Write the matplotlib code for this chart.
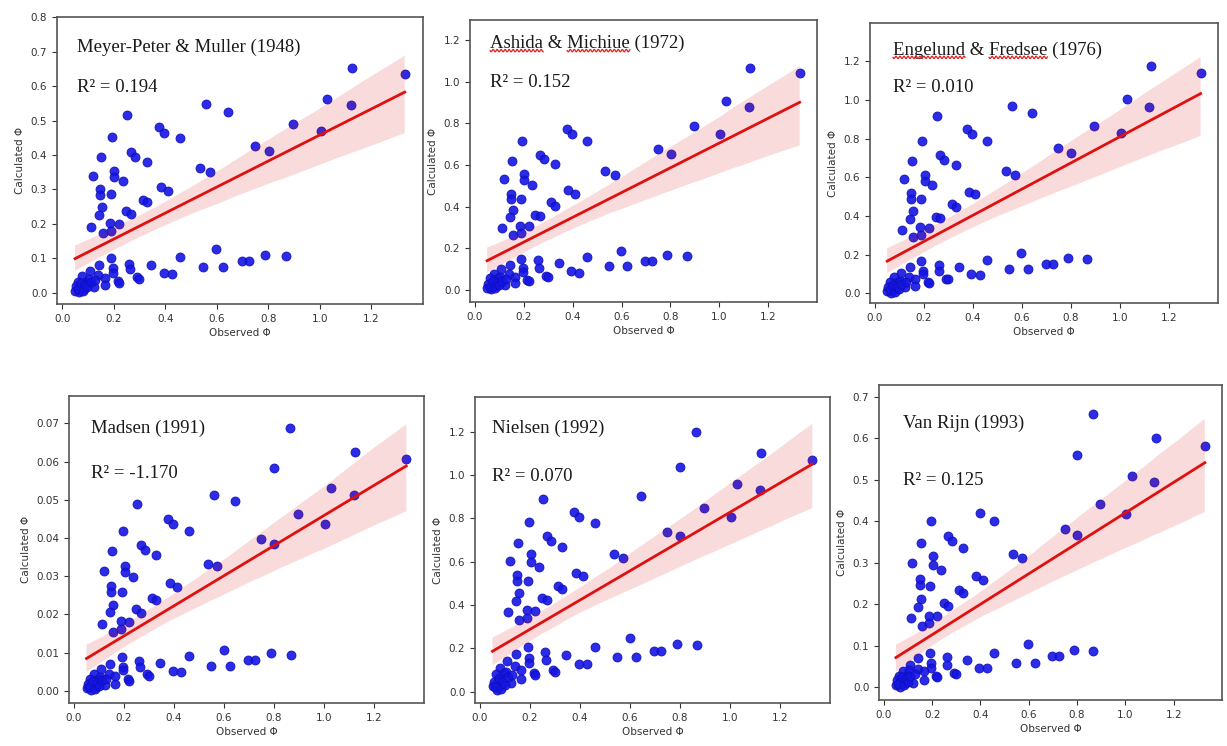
import numpy as np
import matplotlib
matplotlib.use("Agg")
import matplotlib.pyplot as plt
from matplotlib.lines import Line2D
from matplotlib.text import Text
import seaborn as sns

nan = np.nan

# Observed Phi (shared by all panels): upper group, two extra points, lower group,
# then the dense overlapping cluster near the origin
observed = [
    1.125, 1.329, 1.029, 1.120, 0.895, 1.004, 0.749, 0.801, 0.559, 0.642,
    0.534, 0.572, 0.253, 0.377, 0.397, 0.458, 0.194, 0.152, 0.266, 0.282,
    0.329, 0.118, 0.203, 0.203, 0.235, 0.148, 0.148, 0.190, 0.383, 0.410,
    0.313, 0.329, 0.154, 0.143, 0.248, 0.266, 0.112, 0.186, 0.220, 0.157,
    0.189,
    0.865, 0.798,
    0.190, 0.598, 0.867, 0.788, 0.697, 0.725, 0.458, 0.548, 0.624, 0.343,
    0.394, 0.428, 0.260, 0.262, 0.292, 0.300, 0.143, 0.197, 0.197, 0.215,
    0.220, 0.107, 0.141, 0.165, 0.165, 0.122, 0.078, 0.062, 0.094, 0.050,
    0.066, 0.086, 0.103, 0.071,
    0.055, 0.060, 0.075, 0.082, 0.090, 0.098, 0.110, 0.128,
]

calc_mpm = [
    0.653, 0.635, 0.562, 0.545, 0.491, 0.469, 0.426, 0.412, 0.547, 0.524,
    0.361, 0.350, 0.517, 0.480, 0.465, 0.450, 0.451, 0.393, 0.410, 0.395,
    0.380, 0.340, 0.354, 0.337, 0.325, 0.300, 0.284, 0.286, 0.306, 0.295,
    0.269, 0.262, 0.248, 0.226, 0.237, 0.229, 0.192, 0.201, 0.199, 0.174,
    0.179,
    nan, nan,
    0.100, 0.126, 0.106, 0.110, 0.092, 0.092, 0.104, 0.074, 0.074, 0.081,
    0.058, 0.054, 0.083, 0.070, 0.045, 0.041, 0.080, 0.071, 0.058, 0.034,
    0.029, 0.064, 0.050, 0.044, 0.022, 0.017, 0.048, 0.032, 0.032, 0.006,
    0.002, 0.012, 0.039, 0.017,
    0.020, 0.010, 0.028, 0.005, 0.022, 0.015, 0.030, 0.036,
]

calc_ashida = [
    1.067, 1.040, 0.907, 0.880, 0.787, 0.750, 0.678, 0.654, nan, nan,
    0.570, 0.554, nan, 0.771, 0.747, 0.714, 0.714, 0.618, 0.648, 0.630,
    0.606, 0.534, 0.558, 0.528, 0.504, 0.462, 0.438, 0.437, 0.480, 0.462,
    0.422, 0.405, 0.384, 0.349, 0.360, 0.354, 0.299, 0.307, 0.307, 0.264,
    0.272,
    nan, nan,
    0.150, 0.187, 0.163, 0.170, 0.139, 0.139, 0.157, 0.115, 0.115, 0.128,
    0.090, 0.083, 0.144, 0.104, 0.067, 0.061, 0.120, 0.104, 0.088, 0.048,
    0.045, 0.099, 0.077, 0.064, 0.035, 0.024, 0.077, 0.056, 0.056, 0.008,
    0.003, 0.019, 0.064, 0.024,
    0.030, 0.015, 0.042, 0.008, 0.033, 0.022, 0.045, 0.054,
]

calc_engelund = [
    1.178, 1.138, 1.003, 0.966, 0.866, 0.828, 0.750, 0.724, 0.969, 0.931,
    0.631, 0.614, 0.917, 0.848, 0.822, 0.786, 0.786, 0.683, 0.716, 0.690,
    0.664, 0.591, 0.614, 0.581, 0.560, 0.517, 0.488, 0.488, 0.526, 0.514,
    0.462, 0.448, 0.424, 0.384, 0.397, 0.388, 0.328, 0.341, 0.338, 0.293,
    0.302,
    nan, nan,
    0.166, 0.210, 0.176, 0.183, 0.150, 0.150, 0.171, 0.128, 0.128, 0.138,
    0.098, 0.093, 0.145, 0.117, 0.074, 0.072, 0.134, 0.117, 0.100, 0.060,
    0.052, 0.107, 0.086, 0.076, 0.040, 0.034, 0.083, 0.060, 0.060, 0.014,
    0.003, 0.021, 0.066, 0.031,
    0.032, 0.016, 0.045, 0.008, 0.035, 0.024, 0.048, 0.058,
]

calc_madsen = [
    0.0626, 0.0608, 0.0532, 0.0514, 0.0462, 0.0436, 0.0397, 0.0384, 0.0514, 0.0497,
    0.0333, 0.0326, 0.0488, 0.0451, 0.0438, 0.0419, 0.0419, 0.0366, 0.0381, 0.0370,
    0.0355, 0.0313, 0.0328, 0.0312, 0.0298, 0.0274, 0.0259, 0.0259, 0.0281, 0.0272,
    0.0244, 0.0237, 0.0224, 0.0207, 0.0213, 0.0205, 0.0174, 0.0182, 0.0181, 0.0154,
    0.0161,
    0.0687, 0.0584,
    0.0089, 0.0108, 0.0093, 0.0098, 0.0080, 0.0080, 0.0092, 0.0065, 0.0065, 0.0074,
    0.0051, 0.0048, 0.0078, 0.0063, 0.0043, 0.0038, 0.0070, 0.0063, 0.0054, 0.0032,
    0.0026, 0.0056, 0.0045, 0.0038, 0.0019, 0.0015, 0.0044, 0.0030, 0.0032, 0.0006,
    0.0001, 0.0010, 0.0037, 0.0019,
    0.0018, 0.0009, 0.0025, 0.0004, 0.0020, 0.0013, 0.0027, 0.0032,
]

calc_nielsen = [
    1.103, 1.069, 0.958, 0.931, 0.846, 0.808, 0.738, 0.718, nan, 0.903,
    0.635, 0.618, 0.889, 0.831, 0.808, 0.777, 0.782, 0.688, 0.718, 0.697,
    0.669, 0.605, 0.634, 0.597, 0.574, 0.538, 0.512, 0.511, 0.549, 0.535,
    0.488, 0.474, 0.457, 0.420, 0.431, 0.423, 0.366, 0.377, 0.374, 0.331,
    0.338,
    1.197, 1.038,
    0.205, 0.246, 0.214, 0.220, 0.188, 0.188, 0.208, 0.158, 0.158, 0.169,
    0.128, 0.128, 0.185, 0.146, 0.100, 0.092, 0.172, 0.154, 0.131, 0.088,
    0.077, 0.142, 0.118, 0.100, 0.057, 0.038, 0.108, 0.082, 0.085, 0.026,
    0.008, 0.031, 0.092, 0.054,
    0.045, 0.022, 0.062, 0.011, 0.048, 0.033, 0.066, 0.079,
]

calc_vanrijn = [
    0.600, 0.580, 0.509, 0.495, 0.442, 0.417, 0.381, 0.367, nan, nan,
    0.320, 0.310, nan, nan, 0.419, 0.401, 0.401, 0.347, 0.365, 0.352,
    0.336, 0.300, 0.315, 0.295, 0.283, 0.260, 0.246, 0.244, 0.267, 0.258,
    0.234, 0.226, 0.212, 0.193, 0.202, 0.196, 0.166, 0.172, 0.172, 0.148,
    0.154,
    0.657, 0.560,
    0.083, 0.104, 0.086, 0.090, 0.074, 0.074, 0.083, 0.059, 0.059, 0.066,
    0.046, 0.046, 0.072, 0.054, 0.035, 0.032, 0.069, 0.058, 0.046, 0.027,
    0.024, 0.054, 0.043, 0.038, 0.018, 0.010, 0.038, 0.027, 0.030, 0.006,
    0.000, 0.010, 0.042, 0.022,
    0.017, 0.008, 0.024, 0.004, 0.019, 0.013, 0.026, 0.031,
]

titles = ["Meyer-Peter & Muller (1948)", "Ashida & Michiue (1972)",
          "Engelund & Fredsee (1976)", "Madsen (1991)", "Nielsen (1992)",
          "Van Rijn (1993)"]
r2_labels = ["R\u00b2 = 0.194", "R\u00b2 = 0.152", "R\u00b2 = 0.010",
             "R\u00b2 = -1.170", "R\u00b2 = 0.070", "R\u00b2 = 0.125"]
# words flagged by a spell-checker (red wavy underline in the source image)
flagged = [[], ["Ashida", "Michiue"], ["Engelund", "Fredsee"], [], [], []]
series = [calc_mpm, calc_ashida, calc_engelund, calc_madsen, calc_nielsen, calc_vanrijn]

# layout (pixels in a 1227x746 canvas): left, top, right, bottom
W, H = 1227, 746
boxes = [(57, 17, 423, 304), (470, 20, 817, 302), (870, 23, 1218, 303),
         (69, 396, 424, 703), (475, 397, 830, 703), (879, 385, 1222, 700)]
ylims = [(-0.033, 0.801), (-0.058, 1.296), (-0.050, 1.398),
         (-0.0032, 0.0772), (-0.052, 1.360), (-0.031, 0.728)]
text_pos = [(0.055, 0.895, 0.753), (0.058, 0.918, 0.777), (0.066, 0.904, 0.768),
            (0.062, 0.896, 0.749), (0.048, 0.899, 0.739), (0.070, 0.879, 0.698)]

fig = plt.figure(figsize=(W / 100, H / 100), dpi=100, facecolor="white")
renderer = fig.canvas.get_renderer()

TFONT = dict(fontsize=13.5, family="Liberation Serif")


def text_width(s):
    t = Text(0, 0, s, **TFONT)
    t.set_figure(fig)
    return t.get_window_extent(renderer).width


x = np.array(observed)
for i, (ys, box) in enumerate(zip(series, boxes)):
    l, t, r, b = box
    ax = fig.add_axes([l / W, 1 - b / H, (r - l) / W, (b - t) / H])
    sns.regplot(x=x, y=np.array(ys), ax=ax, seed=3, ci=95,
                scatter_kws={"s": 42, "color": "#1414e6", "alpha": 0.9,
                             "edgecolors": "#1010b0", "linewidths": 0.6},
                line_kws={"color": "#e01010", "lw": 2.0})
    ax.set_xlim(-0.02, 1.40)
    ax.set_ylim(*ylims[i])
    ax.set_xticks([0.0, 0.2, 0.4, 0.6, 0.8, 1.0, 1.2])
    ax.set_xlabel("Observed \u03a6", fontsize=7.5, color="#333333", labelpad=3)
    ax.set_ylabel("Calculated \u03a6", fontsize=7.5, color="#333333", labelpad=4)
    ax.tick_params(labelsize=7.5, colors="#333333", length=3.5)
    for sp in ax.spines.values():
        sp.set_color("#555555")
        sp.set_linewidth(1.2)
    tx, ty1, ty2 = text_pos[i]
    ax.text(tx, ty1, titles[i], transform=ax.transAxes, color="#1a1a1a",
            va="center", ha="left", **TFONT)
    ax.text(tx, ty2, r2_labels[i], transform=ax.transAxes, color="#1a1a1a",
            va="center", ha="left", **TFONT)

    # red wavy spell-check underline below flagged words
    x_text_px = l + tx * (r - l)
    y_mid_px = b - ty1 * (b - t)          # from top
    for word in flagged[i]:
        idx = titles[i].index(word)
        x0 = x_text_px + text_width(titles[i][:idx]) if idx > 0 else x_text_px
        x1 = x0 + text_width(word)
        xs = np.linspace(x0, x1, 200)
        yb = y_mid_px + 7.5 + 1.2 * np.sin(2 * np.pi * (xs - x0) / 4.0)
        fig.add_artist(Line2D(xs / W, 1 - yb / H, color="#e02020", lw=0.9,
                              transform=fig.transFigure))

fig.savefig("out.png", dpi=100, facecolor="white")
